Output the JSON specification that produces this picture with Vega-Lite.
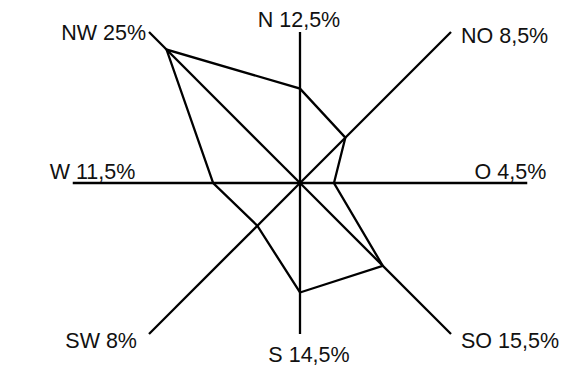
{
  "$schema": "https://vega.github.io/schema/vega-lite/v6.json",
  "width": 561,
  "height": 383,
  "autosize": {"type": "none"},
  "padding": 0,
  "background": "white",
  "config": {
    "view": {"stroke": null},
    "text": {"font": "Liberation Sans, Arial, sans-serif", "fontSize": 21.5, "color": "#111111", "baseline": "alphabetic"}
  },
  "data": {
    "values": [
      {"dir": "N", "pct": 12.5},
      {"dir": "NO", "pct": 8.5},
      {"dir": "O", "pct": 4.5},
      {"dir": "SO", "pct": 15.5},
      {"dir": "S", "pct": 14.5},
      {"dir": "SW", "pct": 8},
      {"dir": "W", "pct": 11.5},
      {"dir": "NW", "pct": 25}
    ]
  },
  "transform": [
    {"calculate": "indexof(['N','NO','O','SO','S','SW','W','NW'], datum.dir)", "as": "i"},
    {"calculate": "datum.i * PI / 4", "as": "ang"},
    {"calculate": "datum.pct * sin(datum.ang)", "as": "px"},
    {"calculate": "datum.pct * cos(datum.ang)", "as": "py"},
    {"calculate": "datum.i % 2 == 1 ? 20 * SQRT2 : (datum.i % 4 == 0 ? 20 : 30.1)", "as": "reach"},
    {"calculate": "datum.reach * sin(datum.ang)", "as": "ex"},
    {"calculate": "datum.reach * cos(datum.ang)", "as": "ey"},
    {"calculate": "0", "as": "c0"},
    {"calculate": "datum.dir + ' ' + replace(format(datum.pct, '~g'), '.', ',') + '%'", "as": "label"}
  ],
  "encoding": {
    "x": {"field": "ex", "type": "quantitative", "scale": {"domain": [-39.735, 34.57], "nice": false, "zero": false}, "axis": null},
    "y": {"field": "ey", "type": "quantitative", "scale": {"domain": [-26.49, 24.24], "nice": false, "zero": false}, "axis": null}
  },
  "layer": [
    {
      "mark": {"type": "rule", "color": "black", "strokeWidth": 2.3},
      "encoding": {
        "x": {"field": "c0", "type": "quantitative"},
        "y": {"field": "c0", "type": "quantitative"},
        "x2": {"field": "ex"},
        "y2": {"field": "ey"}
      }
    },
    {
      "mark": {"type": "line", "color": "black", "strokeWidth": 2.3, "interpolate": "linear-closed"},
      "encoding": {
        "x": {"field": "px", "type": "quantitative"},
        "y": {"field": "py", "type": "quantitative"},
        "order": {"field": "i", "type": "quantitative"}
      }
    },
    {
      "transform": [{"filter": "datum.dir == 'N'"}],
      "mark": {"type": "text", "align": "center", "dx": -1, "dy": -5},
      "encoding": {"text": {"field": "label"}}
    },
    {
      "transform": [{"filter": "datum.dir == 'S'"}],
      "mark": {"type": "text", "align": "center", "dx": 9, "dy": 28},
      "encoding": {"text": {"field": "label"}}
    },
    {
      "transform": [{"filter": "datum.dir == 'NO'"}],
      "mark": {"type": "text", "align": "left", "dx": 10, "dy": 11},
      "encoding": {"text": {"field": "label"}}
    },
    {
      "transform": [{"filter": "datum.dir == 'SO'"}],
      "mark": {"type": "text", "align": "left", "dx": 10, "dy": 14},
      "encoding": {"text": {"field": "label"}}
    },
    {
      "transform": [{"filter": "datum.dir == 'NW'"}],
      "mark": {"type": "text", "align": "right", "dx": -3, "dy": 8},
      "encoding": {"text": {"field": "label"}}
    },
    {
      "transform": [{"filter": "datum.dir == 'SW'"}],
      "mark": {"type": "text", "align": "right", "dx": -12, "dy": 14},
      "encoding": {"text": {"field": "label"}}
    },
    {
      "transform": [{"filter": "datum.dir == 'W'"}],
      "mark": {"type": "text", "align": "left", "dx": -23, "dy": -4},
      "encoding": {"text": {"field": "label"}}
    },
    {
      "transform": [{"filter": "datum.dir == 'O'"}],
      "mark": {"type": "text", "align": "right", "dx": 19, "dy": -4},
      "encoding": {"text": {"field": "label"}}
    }
  ]
}
